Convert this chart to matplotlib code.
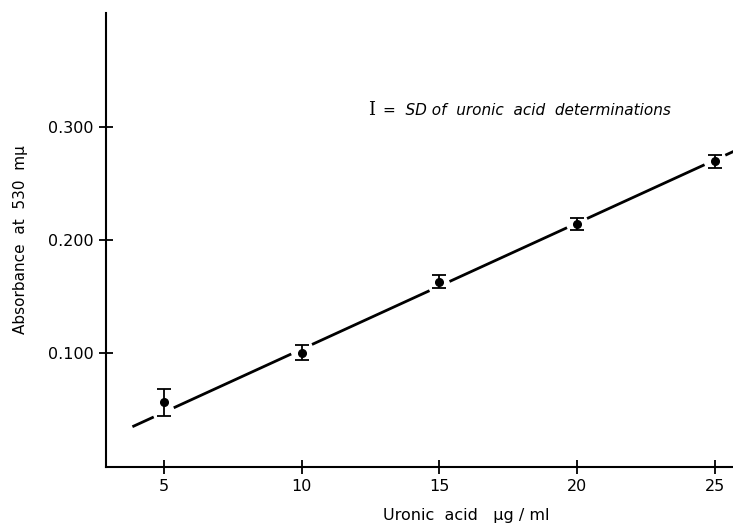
import matplotlib
matplotlib.use("Agg")
import matplotlib.pyplot as plt
import numpy as np

# uronic acid standard curve
conc = [5, 10, 15, 20, 25]
absorb = [0.056, 0.100, 0.163, 0.2145, 0.2695]
sd = [0.012, 0.0065, 0.006, 0.0053, 0.006]

# fitted line (drawn from ~4 to beyond 25)
fit_x = [3.9, 25.7]
fit_intercept = -0.0087
fit_slope = 0.01118

plt.rcParams['font.family'] = ['DejaVu Sans']

fig = plt.figure(figsize=(7.33, 5.25), dpi=100)
ax = fig.add_axes([0.1446, 0.1105, 0.855, 0.8645])

# line, broken near each point like the original drawing
x_line = np.linspace(fit_x[0], fit_x[1], 800)
y_line = fit_intercept + fit_slope * x_line
mask = np.ones_like(x_line, dtype=bool)
for c in conc:
    mask &= np.abs(x_line - c) > 0.4
y_line = np.where(mask, y_line, np.nan)
ax.plot(x_line, y_line, color='black', lw=2)

ax.errorbar(conc, absorb, yerr=sd, fmt='o', color='black', ms=5.5,
            capsize=5, elinewidth=1.3, capthick=1.3)

ax.set_xlim(2.895, 25.65)
ax.set_ylim(-0.0013, 0.401)
ax.set_xticks(conc)
ax.set_xticklabels(['5', '10', '15', '20', '25'])
ax.set_yticks([0.1, 0.2, 0.3])
ax.set_yticklabels(['0.100', '0.200', '0.300'])

for s in ['top', 'right']:
    ax.spines[s].set_visible(False)
for s in ['left', 'bottom']:
    ax.spines[s].set_linewidth(1.5)
ax.tick_params(direction='inout', length=10, width=1.3, labelsize=11.5, pad=4)

ax.set_ylabel('Absorbance  at  530  mμ', fontsize=11)
ax.yaxis.set_label_coords(-0.125, 0.5)
ax.set_xlabel('Uronic  acid   μg / ml', fontsize=11.5)
ax.xaxis.set_label_coords(0.575, -0.09)

ax.text(12.4, 0.315, 'I', fontsize=13, family='DejaVu Serif', va='center')
ax.text(12.95, 0.315, '=  SD of  uronic  acid  determinations', fontsize=11,
        style='italic', va='center')

fig.savefig('out.png', dpi=100)
